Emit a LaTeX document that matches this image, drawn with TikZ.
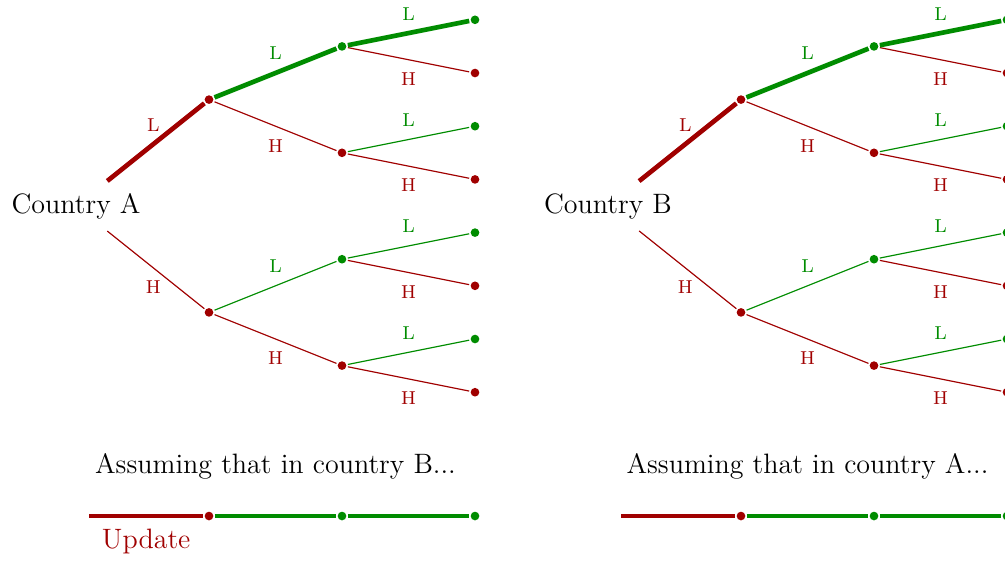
\documentclass[tikz,border=0pt]{standalone}
\usetikzlibrary{positioning}

\definecolor{dred}{RGB}{160,0,0}
\definecolor{dgreen}{RGB}{0,140,0}

\tikzset{
  countrynode/.style={font=\large},
  dot/.style={circle, inner sep=0pt, minimum size=3.7pt, outer sep=0.7pt},
  edge/.style={line width=0.5pt},
  hot/.style={line width=2pt},
  lab/.style={font=\footnotesize, midway},
}

\begin{document}
\begin{tikzpicture}

    % Marco de la figura (el segundo arbol queda cortado a la derecha)
    \useasboundingbox (-1.143, 3.098) rectangle (13.970, -5.368);
    \clip (-1.143, 3.098) rectangle (13.970, -5.368);

    % --- 1. RAICES ---
    \node[countrynode] (A) at (0,0) {Country A};
    \node[countrynode] (B) at (8,0) {Country B};

    \foreach \cty/\dx/\other in {A/0/B, B/8/A} {
    \begin{scope}[xshift=\dx cm]
        % --- 2. NIVELES DEL ARBOL (el primero todo en rojo) ---
        \foreach \ma/\ya/\an/\dy in {L/1.6/south/2pt, H/-1.6/north/-2pt} {
            \node[dot, fill=dred] (\cty\ma) at (2,\ya) {};
            \draw[edge, dred, shorten <=2.7pt] (\cty) -- (\cty\ma) node[lab, anchor=\an, yshift=\dy] {\ma};
            \foreach \mb/\yb/\cb/\bn/\bdy in {L/0.8/dgreen/south/2pt, H/-0.8/dred/north/-2pt} {
                \node[dot, fill=\cb] (\cty\ma\mb) at (4,{\ya+\yb}) {};
                \draw[edge, \cb] (\cty\ma) -- (\cty\ma\mb) node[lab, anchor=\bn, yshift=\bdy] {\mb};
                % Hojas
                \foreach \mc/\yc/\cc/\cn/\cdy in {L/0.4/dgreen/south/2pt, H/-0.4/dred/north/-2pt} {
                    \node[dot, fill=\cc] (\cty\ma\mb\mc) at (6,{\ya+\yb+\yc}) {};
                    \draw[edge, \cc] (\cty\ma\mb) -- (\cty\ma\mb\mc) node[lab, anchor=\cn, yshift=\cdy] {\mc};
                }
            }
        }
        % Camino resaltado L-L-L
        \draw[hot, dred, shorten <=2.7pt] (\cty) -- (\cty L);
        \draw[hot, dgreen] (\cty L) -- (\cty LL) -- (\cty LLL);
        % --- 3. BARRA INFERIOR ---
        \node[font=\large, anchor=base] (\cty note) at (3,-4.015) {Assuming that in country \other...};
        \coordinate (\cty b0) at (0.2,-4.662);
        \node[dot, fill=dred] (\cty b1) at (2,-4.662) {};
        \node[dot, fill=dgreen] (\cty b2) at (4,-4.662) {};
        \node[dot, fill=dgreen] (\cty b3) at (6,-4.662) {};
        \draw[hot, dred] (\cty b0) -- (\cty b1);
        \draw[hot, dgreen] (\cty b1) -- (\cty b2) -- (\cty b3);
    \end{scope}
    }

    % Etiqueta del primer tramo
    \path (Ab0) -- (Ab1) node[midway, below=2pt, font=\large, dred] {Update};

\end{tikzpicture}
\end{document}
